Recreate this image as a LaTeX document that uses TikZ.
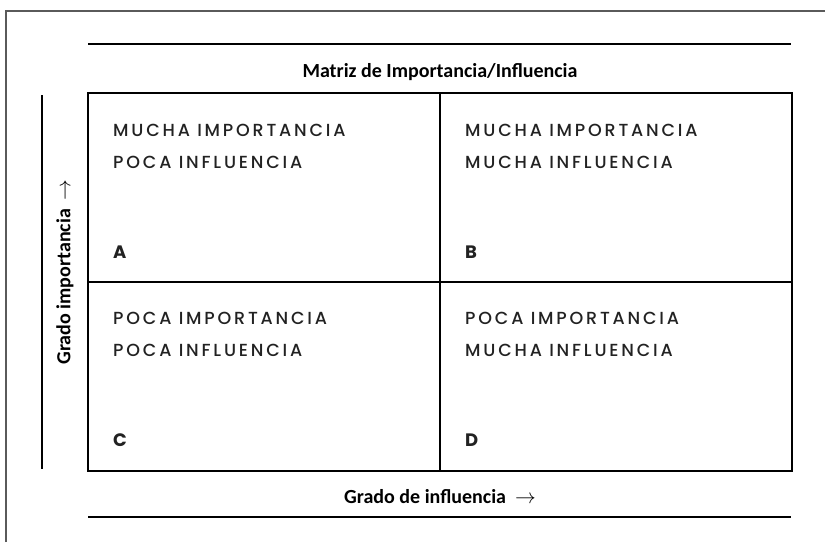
\documentclass[tikz,border=0pt]{standalone}
\usepackage{fontspec}
\usepackage{amsmath}
\usepackage{tikz}
\setmainfont{Carlito}
\newfontfamily\cellfont[LetterSpace=16,UprightFont=* Medium]{Poppins}
\newfontfamily\tagfont{Poppins}
\definecolor{framegray}{HTML}{5A5A5A}
\definecolor{inkgray}{HTML}{222222}

\begin{document}
\begin{tikzpicture}[x=1pt,y=-1pt,
	cell/.style={draw=black,line width=2pt,minimum width=352pt,minimum height=189pt,inner sep=0pt},
	celltext/.style={anchor=west,inner sep=0pt,text=inkgray,font=\cellfont\fontsize{17.5}{20}\selectfont},
	celltag/.style={anchor=west,inner sep=0pt,text=inkgray,font=\tagfont\bfseries\fontsize{18}{20}\selectfont},
	axislabel/.style={inner sep=0pt,font=\bfseries\fontsize{20}{24}\selectfont}]
	
	\useasboundingbox (0,0) rectangle (825,542);
	
	% outer frame (left and top only)
	\coordinate (f1) at (6,542);
	\coordinate (f2) at (6,11);
	\coordinate (f3) at (825,11);
	\draw[framegray,line width=1.5pt] (f1) -- (f2) -- (f3);
	
	% rules above and below
	\coordinate (t1) at (88,44);
	\coordinate (t2) at (791,44);
	\coordinate (b1) at (88,517);
	\coordinate (b2) at (791,517);
	\path[-,line width=2pt] (t1) edge (t2);
	\path[-,line width=2pt] (b1) edge (b2);
	
	% vertical rule at the left
	\coordinate (v1) at (42,95);
	\coordinate (v2) at (42,469);
	\path[-,line width=1.5pt] (v1) edge (v2);
	
	% the four cells
	\node[cell] (qa) at (264,187.5) {};
	\node[cell] (qb) at (616,187.5) {};
	\node[cell] (qc) at (264,376.5) {};
	\node[cell] (qd) at (616,376.5) {};
	
	\node[celltext] (a1) at (113,130) {MUCHA IMPORTANCIA};
	\node[celltext] (a2) at (113,162) {POCA INFLUENCIA};
	\node[celltag]  (a3) at (113,252) {A};
	
	\node[celltext] (b1t) at (465,130) {MUCHA IMPORTANCIA};
	\node[celltext] (b2t) at (465,162) {MUCHA INFLUENCIA};
	\node[celltag]  (b3t) at (465,252) {B};
	
	\node[celltext] (c1) at (113,318) {POCA IMPORTANCIA};
	\node[celltext] (c2) at (113,350) {POCA INFLUENCIA};
	\node[celltag]  (c3) at (113,440) {C};
	
	\node[celltext] (d1) at (465,318) {POCA IMPORTANCIA};
	\node[celltext] (d2) at (465,350) {MUCHA INFLUENCIA};
	\node[celltag]  (d3) at (465,440) {D};
	
	% titles
	\node[axislabel] (title) at (440,72) {Matriz de Importancia/Influencia};
	\node[axislabel] (xlab) at (440,497) {Grado de influencia~~$\rightarrow$};
	\node[axislabel,rotate=90] (ylab) at (65,272) {Grado importancia~~$\rightarrow$};
	
\end{tikzpicture}
\end{document}
